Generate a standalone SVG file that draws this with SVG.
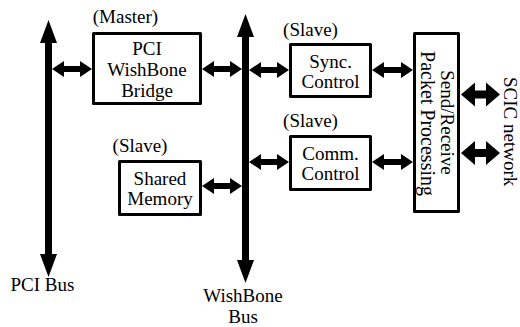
<svg xmlns="http://www.w3.org/2000/svg" width="520" height="327" viewBox="0 0 520 327" font-family="Liberation Serif, Times New Roman, DejaVu Serif, serif">
  <style>
    .box { fill: #fff; stroke: #000; stroke-width: 3; stroke-linejoin: round; }
    .arrow { fill: #000; stroke: none; }
    text { font-family: 'Liberation Serif', 'Times New Roman', 'DejaVu Serif', serif; font-size: 19px; fill: #000; }
    .c { text-anchor: middle; }
  </style>
  <rect width="520" height="327" fill="#fff"/>

  <!-- buses and links -->
  <g id="connectors">
    <!-- PCI bus -->
    <path class="arrow" d="M48.5 20 L57 43 L52 43 L52 254 L57 254 L48.5 277 L40 254 L45 254 L45 43 L40 43 Z"/>
    <!-- WishBone bus -->
    <path class="arrow" d="M245.5 14 L254 37 L249 37 L249 260 L254 260 L245.5 283 L237 260 L242 260 L242 37 L237 37 Z"/>
    <!-- PCI bus <-> bridge -->
    <path class="arrow" d="M52 69 L64 61 L64 66 L80 66 L80 61 L92 69 L80 77 L80 72 L64 72 L64 77 Z"/>
    <!-- bridge <-> WishBone bus -->
    <path class="arrow" d="M202 69 L214 61 L214 66 L230 66 L230 61 L242 69 L230 77 L230 72 L214 72 L214 77 Z"/>
    <!-- WishBone bus <-> sync control -->
    <path class="arrow" d="M249 70 L261 62 L261 67 L277 67 L277 62 L289 70 L277 78 L277 73 L261 73 L261 78 Z"/>
    <!-- sync control <-> packet processing -->
    <path class="arrow" d="M372 70 L384 62 L384 67 L401 67 L401 62 L413 70 L401 78 L401 73 L384 73 L384 78 Z"/>
    <!-- WishBone bus <-> comm control -->
    <path class="arrow" d="M249 162 L261 154 L261 159 L277 159 L277 154 L289 162 L277 170 L277 165 L261 165 L261 170 Z"/>
    <!-- comm control <-> packet processing -->
    <path class="arrow" d="M372 162 L384 154 L384 159 L401 159 L401 154 L413 162 L401 170 L401 165 L384 165 L384 170 Z"/>
    <!-- shared memory <-> WishBone bus -->
    <path class="arrow" d="M202 186 L214 178 L214 183 L230 183 L230 178 L242 186 L230 194 L230 189 L214 189 L214 194 Z"/>
    <!-- packet processing <-> SCIC network -->
    <path class="arrow" d="M461 94.5 L475 82.5 L475 90.5 L486 90.5 L486 82.5 L500 94.5 L486 106.5 L486 98.5 L475 98.5 L475 106.5 Z"/>
    <path class="arrow" d="M461 153 L475 141 L475 149 L486 149 L486 141 L500 153 L486 165 L486 157 L475 157 L475 165 Z"/>
  </g>

  <g id="bridge">
    <text x="125.5" y="23" class="c">(Master)</text>
    <rect class="box" x="93.5" y="33.5" width="107" height="70"/>
    <text x="147" y="55" class="c">PCI</text>
    <text x="147" y="76" class="c">WishBone</text>
    <text x="147" y="97" class="c">Bridge</text>
  </g>

  <g id="sync-control">
    <text x="310.5" y="36" class="c">(Slave)</text>
    <rect class="box" x="290.5" y="44.5" width="80" height="52"/>
    <text x="330.5" y="68" class="c">Sync.</text>
    <text x="330.5" y="88" class="c">Control</text>
  </g>

  <g id="comm-control">
    <text x="310.5" y="127" class="c">(Slave)</text>
    <rect class="box" x="290.5" y="136.5" width="80" height="53"/>
    <text x="330.5" y="160" class="c">Comm.</text>
    <text x="330.5" y="180" class="c">Control</text>
  </g>

  <g id="shared-memory">
    <text x="140" y="152" class="c">(Slave)</text>
    <rect class="box" x="119.5" y="161.5" width="81" height="53"/>
    <text x="160" y="185" class="c">Shared</text>
    <text x="160" y="205" class="c">Memory</text>
  </g>

  <g id="packet-processing">
    <rect class="box" x="414.5" y="33.5" width="44" height="178"/>
    <text class="c" transform="translate(441 122.5) rotate(90)">Send/Receive</text>
    <text class="c" style="font-size:20px" transform="translate(421 123.5) rotate(90)">Packet Processing</text>
  </g>

  <g id="labels">
    <text x="42.5" y="291" class="c">PCI Bus</text>
    <text x="243" y="302" class="c">WishBone</text>
    <text x="243" y="323" class="c">Bus</text>
    <text transform="translate(503.5 77) rotate(90)">SCIC network</text>
  </g>
</svg>
